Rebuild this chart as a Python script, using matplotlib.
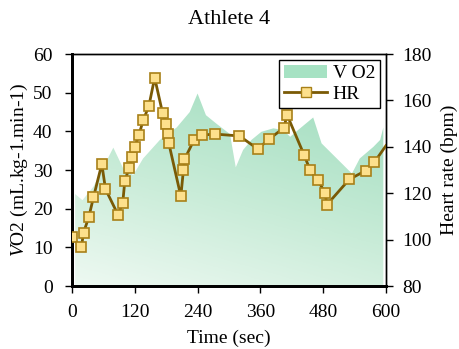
import numpy as np
import matplotlib
matplotlib.use("Agg")
import matplotlib.pyplot as plt
from matplotlib.patches import Patch
from matplotlib.colors import LinearSegmentedColormap

plt.rcParams['font.family'] = ['Liberation Serif', 'DejaVu Serif']
plt.rcParams['mathtext.fontset'] = 'custom'
plt.rcParams['mathtext.rm'] = 'Liberation Serif'
plt.rcParams['mathtext.it'] = 'Liberation Serif:italic'

# VO2 (area)
vo2_t = [6, 20, 41, 79, 98, 117, 136, 168, 200, 225, 240, 256, 276, 302, 313, 327,
         343, 362, 385, 404, 417, 436, 461, 477, 506, 535, 550, 576, 589, 595]
vo2 = [23.8, 22.2, 25.7, 35.8, 30.4, 28.7, 33.0, 37.8, 41.0, 45.0, 49.8, 44.2, 42.0,
       39.3, 30.7, 35.2, 37.8, 39.9, 40.8, 40.3, 38.6, 40.8, 43.6, 36.9, 33.0, 29.1,
       33.0, 36.0, 37.8, 41.0]

# heart rate (line + markers); last point sits on the right edge
hr_t = [0, 18, 22, 32, 41, 57, 64, 88, 97, 101, 109, 114, 120, 128, 136, 147, 158,
        173, 180, 183, 185, 208, 213, 215, 233, 248, 274, 320, 355, 377, 405, 411,
        444, 455, 470, 484, 487, 530, 561, 578, 600]
hr = [101, 96.7, 103, 109.6, 118.2, 132.6, 121.8, 110.7, 115.9, 125.4, 130.7, 135.7,
      139.9, 145.2, 151.4, 157.7, 169.8, 154.7, 149.7, 145.4, 141.6, 118.7, 130.1,
      134.6, 142.9, 145.1, 145.5, 144.7, 139.1, 143.4, 148.2, 153.8, 136.3, 130.0,
      125.6, 120.0, 115.0, 126.0, 129.7, 133.4, 140.5]

fig = plt.figure(figsize=(4.6, 3.49), dpi=100)
ax1 = fig.add_axes([0.1565, 0.1805, 0.6825, 0.6645])

# area with gradient fill
poly = ax1.fill_between(vo2_t, 0, vo2, color='none', lw=0)
cmap = LinearSegmentedColormap.from_list('g', ['#eef9f2', '#c9ecd8', '#a6dfc2'])
xx, yy = np.meshgrid(np.linspace(0, 1, 200), np.linspace(0, 1, 200))
grad = np.clip(0.35 * xx + 0.9 * yy, 0, 1)
im = ax1.imshow(grad, extent=[0, 600, 0, 60], origin='lower', aspect='auto',
                cmap=cmap, vmin=0, vmax=1, zorder=1)
im.set_clip_path(poly.get_paths()[0], transform=ax1.transData)

ax1.set_xlim(0, 600)
ax1.set_ylim(0, 60)
ax1.set_xticks([0, 120, 240, 360, 480, 600])
ax1.set_yticks(range(0, 61, 10))
ax1.set_title('Athlete 4', fontsize=16, pad=22)

ax2 = ax1.twinx()
ax2.plot(hr_t, hr, color='#7a5a05', lw=2, marker='s', markersize=7.5,
         markerfacecolor='#fde08c', markeredgecolor='#a88018', markeredgewidth=1.2,
         markevery=list(range(len(hr) - 1)), zorder=3)
ax2.set_ylim(80, 180)
ax2.set_xlim(0, 600)
ax2.set_yticks(range(80, 181, 20))

for ax in (ax1, ax2):
    ax.tick_params(direction='out', length=5, width=1, labelsize=14, colors='black')
    for s in ax.spines.values():
        s.set_linewidth(1)
for s in ('left', 'bottom'):
    ax1.spines[s].set_linewidth(2)
    ax2.spines[s].set_linewidth(2)
ax1.tick_params(axis='x', pad=8)
ax1.tick_params(axis='y', pad=9)
ax2.tick_params(axis='y', pad=7)

ax1.set_xlabel('Time (sec)', fontsize=14, labelpad=6)
ax1.set_ylabel(r'$\it{V}$O2 (mL.kg-1.min-1)', fontsize=14, labelpad=2)
ax2.set_ylabel('Heart rate (bpm)', fontsize=14, labelpad=6)

handles = [Patch(facecolor='#a6e2c3', edgecolor='none'),
           plt.Line2D([], [], color='#7a5a05', lw=2, marker='s', markersize=7.5,
                      markerfacecolor='#fde08c', markeredgecolor='#a88018')]
leg = ax2.legend(handles, ['V O2', 'HR'], loc='upper right', fontsize=14,
                 frameon=True, fancybox=False, framealpha=1, edgecolor='black',
                 borderpad=0.25, labelspacing=0.15, handlelength=2.2,
                 handletextpad=0.3, borderaxespad=0.3)
leg.get_frame().set_linewidth(1)

fig.savefig('out.png', dpi=100)
